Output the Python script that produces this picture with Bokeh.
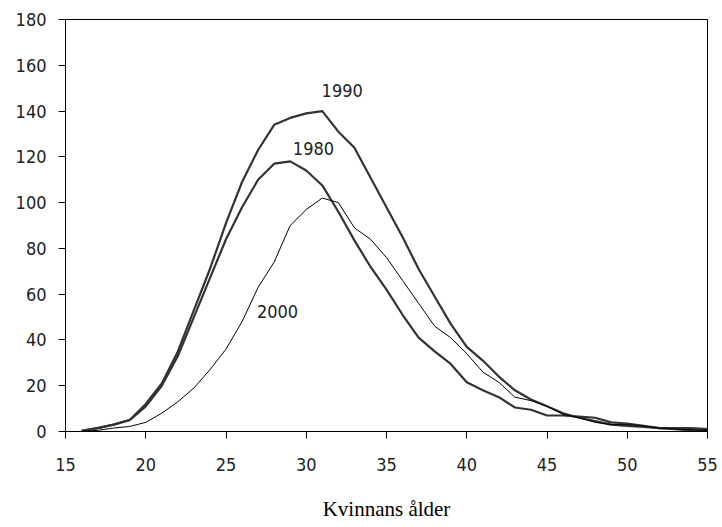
from bokeh.plotting import figure
from bokeh.models import ColumnDataSource, Range1d, FixedTicker
from bokeh.core.properties import value
from bokeh.embed import file_html
from bokeh.resources import INLINE

ages = list(range(16, 56))

births_1980 = [0.3, 1.5, 3, 5, 11, 20, 33, 50, 67, 84, 98, 110, 117, 118, 114, 107.5,
               96, 83.5, 72, 62, 51, 41, 35, 29.5, 21.5, 18, 15, 10.5, 9.5, 7,
               7, 6.5, 6, 4, 3.5, 2.5, 1.5, 1.5, 1.5, 1]
births_1990 = [0.3, 1.5, 3, 5, 12, 21, 35, 53, 71, 91, 109, 123, 134, 137, 139, 140,
               131, 124, 111, 98, 85, 71, 59, 47, 37, 31, 24, 18, 14, 11,
               8, 6, 4.5, 3, 2.5, 2, 1.5, 1, 0.5, 0.3]
births_2000 = [0, 0.5, 1.5, 2.2, 4, 8, 13, 19, 27, 36, 48, 63, 74, 90, 97, 102,
               100, 89, 84, 76, 66, 56, 46, 41, 34, 26, 21.5, 15, 13.5, 11,
               7.5, 6, 4, 3, 3, 2.5, 1.5, 1, 0.8, 0.5]

x_ticks = [15, 20, 25, 30, 35, 40, 45, 50, 55]
y_ticks = [0, 20, 40, 60, 80, 100, 120, 140, 160, 180]

label_texts = ["1990", "1980", "2000"]
label_x = [32.24, 30.45, 28.21]
label_y = [149, 123.6, 52.4]

x_title = "Kvinnans ålder"

TICK_FONT = "DejaVu Sans Condensed"

p = figure(frame_width=642, frame_height=412,
           min_border_left=65, min_border_right=15, min_border_top=19, min_border_bottom=88,
           x_range=Range1d(15, 55), y_range=Range1d(0, 180),
           output_backend="svg", toolbar_location=None,
           background_fill_color="white", border_fill_color="white")

p.grid.visible = False
p.outline_line_color = "black"
p.outline_line_width = 1

src = ColumnDataSource(dict(age=ages, b1980=births_1980, b1990=births_1990, b2000=births_2000))
p.line("age", "b1990", source=src, line_color="#333333", line_width=2.2)
p.line("age", "b1980", source=src, line_color="#333333", line_width=2.2)
p.line("age", "b2000", source=src, line_color="black", line_width=1)

lab = ColumnDataSource(dict(x=label_x, y=label_y, t=label_texts))
p.text("x", "y", text="t", source=lab, text_font=value(TICK_FONT), text_font_size="18px",
       text_align="center", text_baseline="middle", text_color="#222222")

for ax in (p.xaxis[0], p.yaxis[0]):
    ax.axis_line_color = "black"
    ax.major_tick_line_color = "black"
    ax.major_tick_in = 0
    ax.major_tick_out = 7
    ax.minor_tick_line_color = None
    ax.major_label_text_font = TICK_FONT
    ax.major_label_text_font_size = "18px"
    ax.major_label_text_color = "#222222"

p.xaxis.ticker = FixedTicker(ticks=x_ticks)
p.yaxis.ticker = FixedTicker(ticks=y_ticks)
p.xaxis.major_label_standoff = 19
p.yaxis.major_label_standoff = 12

p.xaxis.axis_label = x_title
p.xaxis.axis_label_text_font = "Liberation Serif"
p.xaxis.axis_label_text_font_style = "normal"
p.xaxis.axis_label_text_font_size = "21px"
p.xaxis.axis_label_text_color = "black"
p.xaxis.axis_label_standoff = 23

open("out.html", "w").write(file_html(p, INLINE))
